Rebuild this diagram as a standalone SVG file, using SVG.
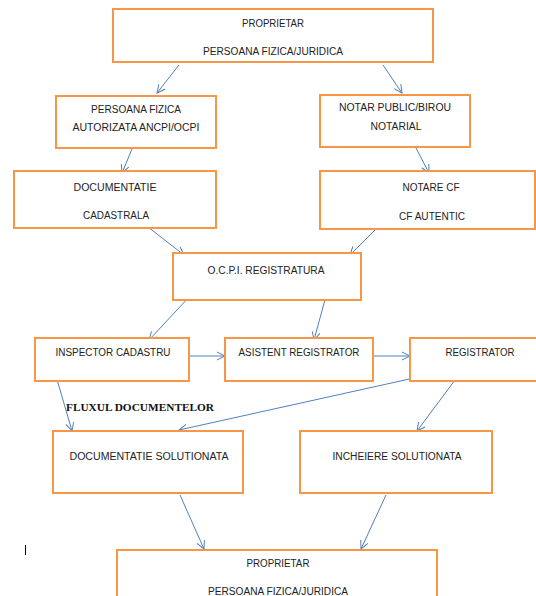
<svg xmlns="http://www.w3.org/2000/svg" width="536" height="596" viewBox="0 0 536 596">
<style>
.box{fill:#fff;stroke:#F79646;stroke-width:2}
.t{font-family:"Liberation Sans",Arial,sans-serif;font-size:10px;fill:#222;text-anchor:middle}
.c{stroke:#4F81BD;stroke-width:1;fill:none;marker-end:url(#ah)}
.title{font-family:"Liberation Serif","Times New Roman",serif;font-size:11px;font-weight:bold;fill:#111}
</style>
<defs>
<marker id="ah" viewBox="-10 -6 12 12" refX="0" refY="0" markerWidth="12" markerHeight="12" markerUnits="userSpaceOnUse" orient="auto">
<path d="M-8,-4 L0,0 L-8,4" fill="none" stroke="#4F81BD" stroke-width="1"/>
</marker>
</defs>
<rect width="536" height="596" fill="#fff"/>
<g id="connectors">
<line class="c" x1="179" y1="65" x2="157" y2="93"/>
<line class="c" x1="383" y1="65" x2="402" y2="93"/>
<line class="c" x1="132" y1="149" x2="122" y2="173"/>
<line class="c" x1="416" y1="148" x2="429" y2="173"/>
<line class="c" x1="148" y1="227" x2="184" y2="255"/>
<line class="c" x1="377" y1="228" x2="350" y2="255"/>
<line class="c" x1="190" y1="296" x2="149" y2="340"/>
<line class="c" x1="326" y1="296" x2="314" y2="340"/>
<line class="c" x1="190" y1="356" x2="225" y2="356"/>
<line class="c" x1="374" y1="356" x2="410" y2="356"/>
<line class="c" x1="56" y1="376" x2="72" y2="431"/>
<line class="c" x1="423" y1="376" x2="179" y2="430"/>
<line class="c" x1="458" y1="376" x2="417" y2="431"/>
<line class="c" x1="180" y1="495" x2="204" y2="549"/>
<line class="c" x1="386" y1="495" x2="361" y2="549"/>
</g>
<g id="n-proprietar-top">
<rect class="box" x="113" y="9" width="320" height="53"/>
<text class="t" x="273" y="26.5" textLength="62" lengthAdjust="spacingAndGlyphs">PROPRIETAR</text>
<text class="t" x="273" y="54.5" textLength="140" lengthAdjust="spacingAndGlyphs">PERSOANA FIZICA/JURIDICA</text>
</g>
<g id="n-persoana-fizica">
<rect class="box" x="56" y="96" width="160" height="52"/>
<text class="t" x="136" y="113" textLength="90" lengthAdjust="spacingAndGlyphs">PERSOANA FIZICA</text>
<text class="t" x="136" y="131" textLength="127" lengthAdjust="spacingAndGlyphs">AUTORIZATA ANCPI/OCPI</text>
</g>
<g id="n-notar">
<rect class="box" x="320" y="95" width="150" height="52"/>
<text class="t" x="395" y="110.5" textLength="112" lengthAdjust="spacingAndGlyphs">NOTAR PUBLIC/BIROU</text>
<text class="t" x="396" y="129.5" textLength="51" lengthAdjust="spacingAndGlyphs">NOTARIAL</text>
</g>
<g id="n-documentatie-cadastrala">
<rect class="box" x="14" y="171" width="202" height="57"/>
<text class="t" x="115" y="190.5" textLength="83" lengthAdjust="spacingAndGlyphs">DOCUMENTATIE</text>
<text class="t" x="116" y="219" textLength="66" lengthAdjust="spacingAndGlyphs">CADASTRALA</text>
</g>
<g id="n-notare-cf">
<rect class="box" x="320" y="171" width="215" height="58"/>
<text class="t" x="431" y="190.5" textLength="57" lengthAdjust="spacingAndGlyphs">NOTARE CF</text>
<text class="t" x="432" y="219.5" textLength="66" lengthAdjust="spacingAndGlyphs">CF AUTENTIC</text>
</g>
<g id="n-ocpi">
<rect class="box" x="173" y="253" width="188" height="47"/>
<text class="t" x="266" y="273.5" textLength="117" lengthAdjust="spacingAndGlyphs">O.C.P.I. REGISTRATURA</text>
</g>
<g id="n-inspector">
<rect class="box" x="35" y="338" width="154" height="43"/>
<text class="t" x="113" y="355.5" textLength="115" lengthAdjust="spacingAndGlyphs">INSPECTOR CADASTRU</text>
</g>
<g id="n-asistent">
<rect class="box" x="225" y="338" width="148" height="43"/>
<text class="t" x="299" y="355.5" textLength="121" lengthAdjust="spacingAndGlyphs">ASISTENT REGISTRATOR</text>
</g>
<g id="n-registrator">
<rect class="box" x="410" y="338" width="140" height="43"/>
<text class="t" x="480" y="355.5" textLength="69" lengthAdjust="spacingAndGlyphs">REGISTRATOR</text>
</g>
<g id="label-flux">
<text class="title" x="66" y="411" textLength="148" lengthAdjust="spacingAndGlyphs">FLUXUL DOCUMENTELOR</text>
</g>
<g id="n-documentatie-solutionata">
<rect class="box" x="53" y="431" width="190" height="62"/>
<text class="t" x="149" y="459.5" textLength="159" lengthAdjust="spacingAndGlyphs">DOCUMENTATIE SOLUTIONATA</text>
</g>
<g id="n-incheiere">
<rect class="box" x="300" y="431" width="192" height="62"/>
<text class="t" x="397" y="459.5" textLength="129" lengthAdjust="spacingAndGlyphs">INCHEIERE SOLUTIONATA</text>
</g>
<g id="n-proprietar-bottom">
<rect class="box" x="117" y="550" width="320" height="60"/>
<text class="t" x="278" y="566.5" textLength="63" lengthAdjust="spacingAndGlyphs">PROPRIETAR</text>
<text class="t" x="278" y="594.5" textLength="140" lengthAdjust="spacingAndGlyphs">PERSOANA FIZICA/JURIDICA</text>
</g>
<line x1="25.5" y1="545" x2="25.5" y2="555" stroke="#000" stroke-width="1"/>
</svg>
